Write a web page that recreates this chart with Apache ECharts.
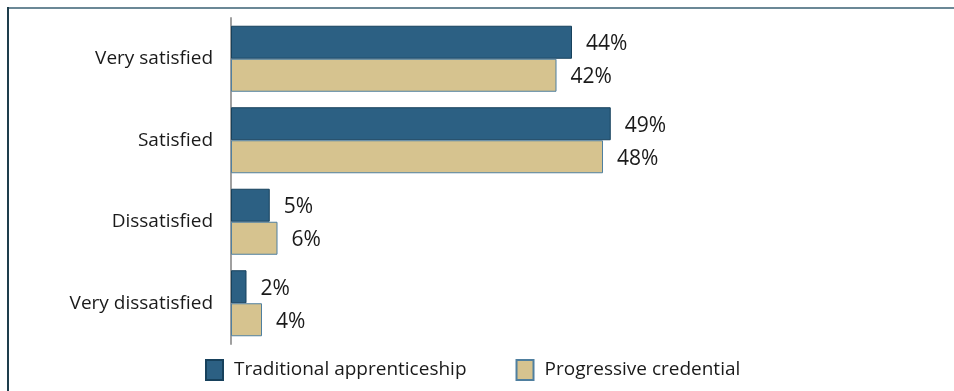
<!DOCTYPE html>
<html>
<head>
<meta charset="utf-8">
<script src="https://cdn.jsdelivr.net/npm/echarts@6/dist/echarts.min.js"></script>
<style>
  html, body { margin: 0; padding: 0; background: #fff; }
  #chart { width: 954px; height: 391px; }
</style>
</head>
<body>
<div id="chart"></div>
<script>
// Satisfaction levels, top to bottom
const categories = ['Very satisfied', 'Satisfied', 'Dissatisfied', 'Very dissatisfied'];
const seriesNames = ['Traditional apprenticeship', 'Progressive credential'];
const traditional = [44, 49, 5, 2];
const progressive = [42, 48, 6, 4];

const FONT = '"Open Sans", "Noto Sans", sans-serif';
const chart = echarts.init(document.getElementById('chart'), null, { renderer: 'canvas' });

const valueLabel = {
  show: true, position: 'right', distance: 14, formatter: '{c}%',
  color: '#1a1a1a', fontSize: 21, fontFamily: FONT, offset: [0, 2]
};

chart.setOption({
  animation: false,
  backgroundColor: '#ffffff',
  textStyle: { fontFamily: FONT },
  grid: { left: 231, top: 18, width: 465, height: 326, containLabel: false },
  xAxis: {
    type: 'value', min: 0, max: 60,
    show: false
  },
  yAxis: {
    type: 'category',
    data: categories,
    inverse: true,
    axisLine: { show: true, lineStyle: { color: '#a0a0a0', width: 2 } },
    axisTick: { show: false },
    axisLabel: { color: '#1a1a1a', fontSize: 19, fontFamily: FONT, margin: 18 }
  },
  legend: {
    left: 205, top: 359, padding: 0,
    itemWidth: 17, itemHeight: 20, itemGap: 49,
    icon: 'rect',
    textStyle: { color: '#1a1a1a', fontSize: 19, fontFamily: FONT, padding: [0, 0, 0, 6] },
    data: seriesNames
  },
  series: [
    {
      name: seriesNames[0], type: 'bar', data: traditional,
      barGap: '0%', barCategoryGap: '19%',
      itemStyle: { color: '#2c6083', borderColor: '#17415c', borderWidth: 1 },
      label: valueLabel
    },
    {
      name: seriesNames[1], type: 'bar', data: progressive,
      barGap: '0%', barCategoryGap: '19%',
      itemStyle: { color: '#d6c38f', borderColor: '#4f7f9f', borderWidth: 1 },
      label: valueLabel
    }
  ],
  graphic: [
    // frame: top rule and left rule
    { type: 'rect', shape: { x: 7, y: 7, width: 947, height: 2 }, style: { fill: '#6b8896' }, silent: true },
    { type: 'rect', shape: { x: 7, y: 7, width: 2, height: 384 }, style: { fill: '#1e3e4c' }, silent: true }
  ]
});
</script>
</body>
</html>
